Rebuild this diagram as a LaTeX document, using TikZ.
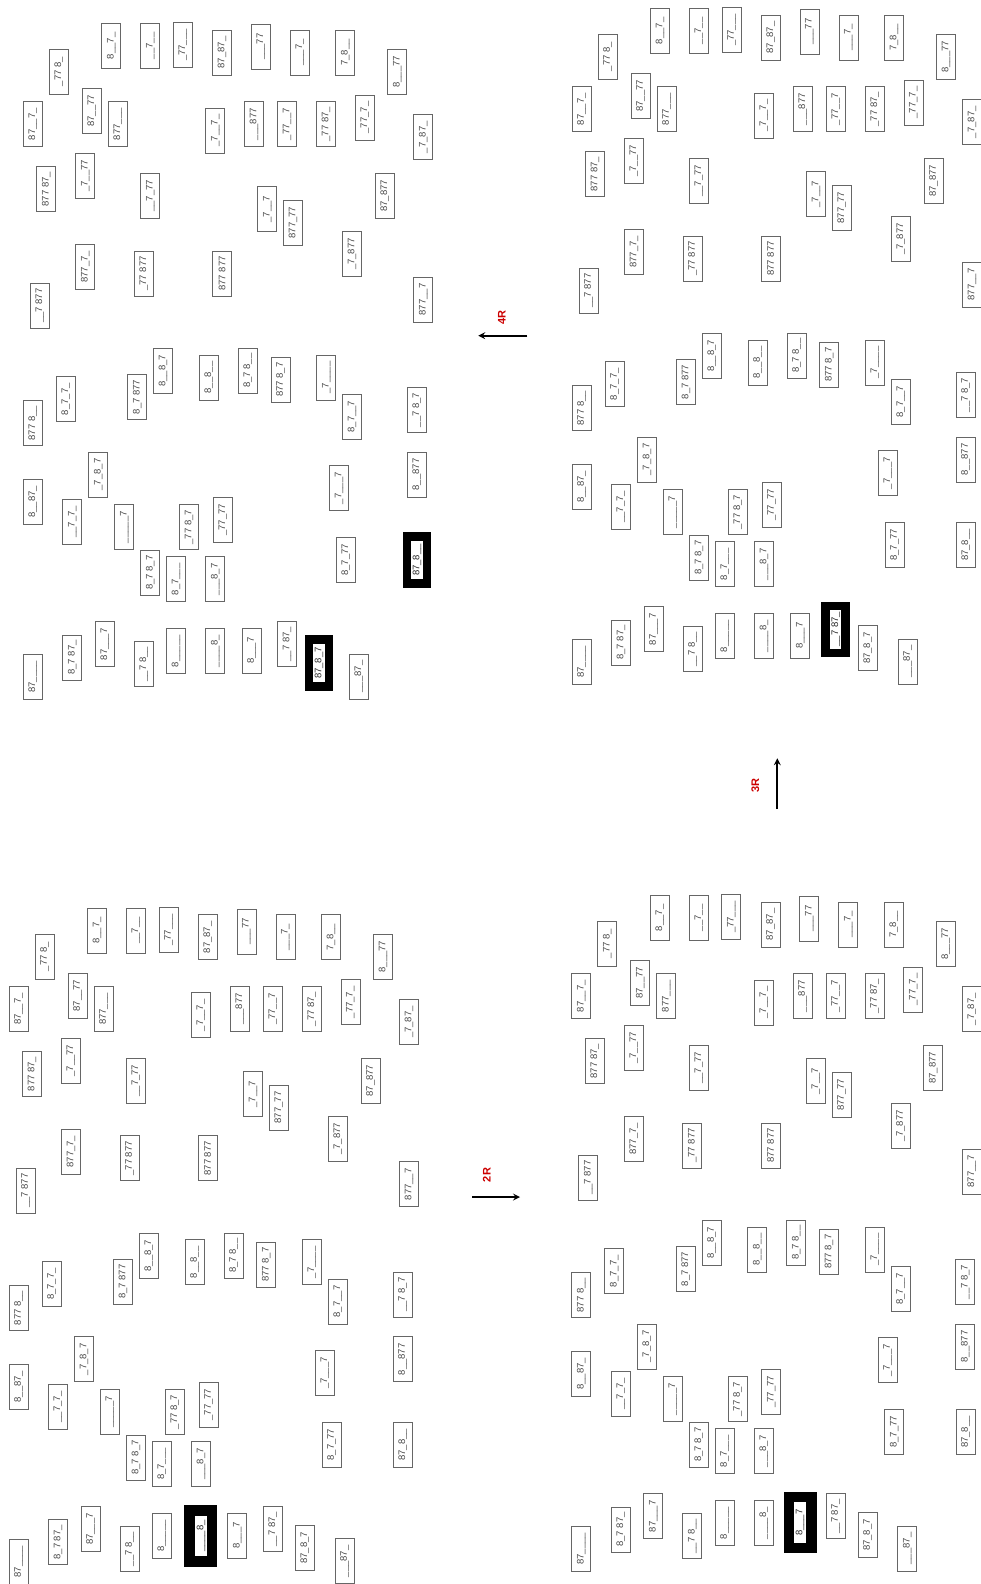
\documentclass[tikz,border=0pt]{standalone}
\usepackage{fontspec}
\setmainfont{Liberation Sans}
\usepackage{tikz}

% one panel of boxes, #1 = name prefix, #2 = shift
\newcommand{\panel}[2]{%
\begin{scope}[shift={#2}]
    % upper half
    \node[blk] (#1-a1) at (111.2,45.8) {\detokenize{8__7_}};
    \node[blk] (#1-a2) at (150.2,45.8) {\detokenize{__7__}};
    \node[blk] (#1-a3) at (182.8,45) {\detokenize{_77___}};
    \node[blk] (#1-a4) at (222,52.5) {\detokenize{87_87_}};
    \node[blk] (#1-a5) at (260.7,46.7) {\detokenize{___77}};
    \node[blk] (#1-a6) at (299.7,52.5) {\detokenize{___7_}};
    \node[blk] (#1-a7) at (345.3,52.5) {\detokenize{7_8__}};
    \node[blk] (#1-a8) at (397.2,71.8) {\detokenize{8___77}};
    \node[blk] (#1-a9) at (58.8,71.7) {\detokenize{_77 8_}};
    \node[blk] (#1-a10) at (32.8,124.2) {\detokenize{87__7_}};
    \node[blk] (#1-a11) at (91.8,110.8) {\detokenize{87__77}};
    \node[blk] (#1-a12) at (117.8,124.2) {\detokenize{877___}};
    \node[blk] (#1-a13) at (215.2,130.5) {\detokenize{_7__7_}};
    \node[blk] (#1-a14) at (254,124.2) {\detokenize{___877}};
    \node[blk] (#1-a15) at (287,124.2) {\detokenize{_77__7}};
    \node[blk] (#1-a16) at (326,124.2) {\detokenize{_77 87_}};
    \node[blk] (#1-a17) at (364.7,117.5) {\detokenize{_77_7_}};
    \node[blk] (#1-a18) at (423.3,137.2) {\detokenize{_7_87_}};
    \node[blk] (#1-a19) at (46.2,189.2) {\detokenize{877 87_}};
    \node[blk] (#1-a20) at (85.2,175.8) {\detokenize{_7__77}};
    \node[blk] (#1-a21) at (150.2,195.8) {\detokenize{__7_77}};
    \node[blk] (#1-a22) at (267.3,209.3) {\detokenize{_7__7}};
    \node[blk] (#1-a23) at (293,222.7) {\detokenize{877_77}};
    \node[blk] (#1-a24) at (384.7,195.8) {\detokenize{87_877}};
    \node[blk] (#1-a25) at (85.2,266.8) {\detokenize{877_7_}};
    \node[blk] (#1-a26) at (143.8,273.5) {\detokenize{_77 877}};
    \node[blk] (#1-a27) at (222,273.5) {\detokenize{877 877}};
    \node[blk] (#1-a28) at (39.7,305.8) {\detokenize{__7 877}};
    \node[blk] (#1-a29) at (352,254) {\detokenize{_7_877}};
    \node[blk] (#1-a30) at (423.3,299.5) {\detokenize{877__7}};
    % lower half
    \node[blk] (#1-b1) at (32.8,423.2) {\detokenize{877 8__}};
    \node[blk] (#1-b2) at (65.7,399.2) {\detokenize{8_7_7_}};
    \node[blk] (#1-b3) at (137.2,397) {\detokenize{8_7 877}};
    \node[blk] (#1-b4) at (163,370.8) {\detokenize{8__8_7}};
    \node[blk] (#1-b5) at (208.7,377.5) {\detokenize{8__8__}};
    \node[blk] (#1-b6) at (247.8,370.8) {\detokenize{8_7 8__}};
    \node[blk] (#1-b7) at (280.5,379.8) {\detokenize{877 8_7}};
    \node[blk] (#1-b8) at (326.2,377.5) {\detokenize{_7____}};
    \node[blk] (#1-b9) at (352,416.7) {\detokenize{8_7__7}};
    \node[blk] (#1-b10) at (416.8,410) {\detokenize{__7 8_7}};
    \node[blk] (#1-b11) at (32.8,501.8) {\detokenize{8__87_}};
    \node[blk] (#1-b12) at (72.2,521.8) {\detokenize{__7_7_}};
    \node[blk] (#1-b13) at (98.2,474.5) {\detokenize{_7_8_7}};
    \node[blk] (#1-b14) at (124.2,527.2) {\detokenize{_____7}};
    \node[blk] (#1-b15) at (189,527.2) {\detokenize{_77 8_7}};
    \node[blk] (#1-b16) at (222.8,519.8) {\detokenize{_77_77}};
    \node[blk] (#1-b17) at (339,488.2) {\detokenize{_7___7}};
    \node[blk] (#1-b18) at (416.8,474.5) {\detokenize{8__877}};
    \node[blk] (#1-b19) at (150.2,572.7) {\detokenize{8_7 8_7}};
    \node[blk] (#1-b20) at (176,579.3) {\detokenize{8_7___}};
    \node[blk] (#1-b21) at (215.2,579.3) {\detokenize{___8_7}};
    \node[blk] (#1-b22) at (345.8,559.8) {\detokenize{8_7_77}};
    \node[blk] (#1-b23) at (417,560) {\detokenize{87_8__}};
    \node[blk] (#1-b24) at (32.8,676.8) {\detokenize{87____}};
    \node[blk] (#1-b25) at (72.2,657.5) {\detokenize{8_7 87_}};
    \node[blk] (#1-b26) at (104.8,644.3) {\detokenize{87___7}};
    \node[blk] (#1-b27) at (143.8,664.2) {\detokenize{__7 8__}};
    \node[blk] (#1-b28) at (176,651.2) {\detokenize{8_____}};
    \node[blk] (#1-b29) at (215.2,651.2) {\detokenize{____8_}};
    \node[blk] (#1-b30) at (251.5,650.7) {\detokenize{8___7}};
    \node[blk] (#1-b31) at (287,644.3) {\detokenize{__7 87_}};
    \node[blk] (#1-b32) at (319,663) {\detokenize{87_8_7}};
    \node[blk] (#1-b33) at (358.7,676.5) {\detokenize{___87_}};
\end{scope}}

\begin{document}
\begin{tikzpicture}[x=1pt, y=-1pt,
    blk/.style={draw=black!60, line width=0.8pt, fill=white, rotate=90,
        minimum width=45pt, minimum height=19pt, inner sep=0pt,
        text=black!72, font=\fontsize{9.5}{10}\selectfont},
    hl/.style={blk, draw=black, line width=8.5pt, minimum width=47pt,
        minimum height=20pt, text=black!85},
    hlbig/.style={hl, line width=10.5pt, minimum width=51pt, minimum height=22.5pt},
    arr/.style={->, line width=2pt, >=stealth},
    lab/.style={rotate=90, text=red!80!black, font=\bfseries\fontsize{11}{12}\selectfont}
]
    \useasboundingbox (0,0) rectangle (981,1584);

    % Top left
    \panel{tl}{(0,0)}
    \node[hl] (tl-hl1) at (tl-b32) {\detokenize{87_8_7}};
    \node[hl] (tl-hl2) at (tl-b23) {\detokenize{87_8__}};

    % Top right
    \panel{tr}{(548.7,-15)}
    \node[hl] (tr-hl) at (tr-b31) {\detokenize{__7 87_}};

    % Bottom left
    \panel{bl}{(-14.3,884.8)}
    \node[hlbig] (bl-hl) at (bl-b29) {\detokenize{____8_}};

    % Bottom right
    \panel{br}{(548.5,872)}
    \node[hlbig] (br-hl) at (br-b30) {\detokenize{8___7}};

    % Rounds
    \coordinate (r2a) at (472,1197);
    \coordinate (r2b) at (520,1197);
    \coordinate (r3a) at (777.3,809);
    \coordinate (r3b) at (777.3,758.3);
    \coordinate (r4a) at (527.3,335.7);
    \coordinate (r4b) at (478.3,335.7);
    \draw[arr] (r2a) -- (r2b) node[pos=0.31, yshift=22pt, lab] (l2) {2R};
    \draw[arr] (r3a) -- (r3b) node[pos=0.47, xshift=-22pt, lab] (l3) {3R};
    \draw[arr] (r4a) -- (r4b) node[pos=0.52, yshift=18.4pt, lab] (l4) {4R};
\end{tikzpicture}
\end{document}
